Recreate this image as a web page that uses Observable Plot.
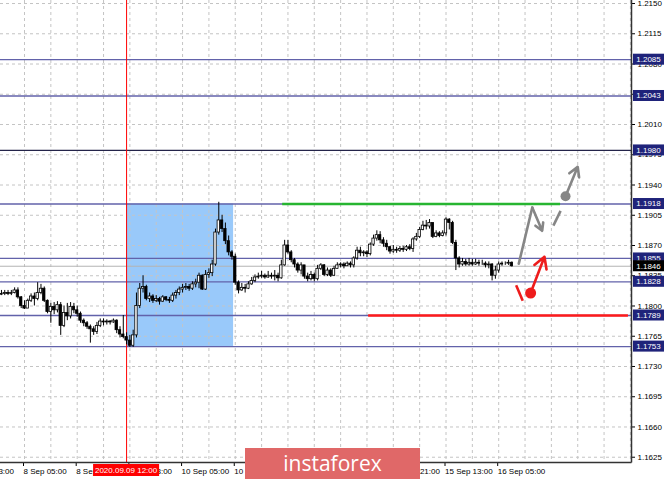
<!DOCTYPE html>
<html><head><meta charset="utf-8">
<script src="https://cdn.jsdelivr.net/npm/d3@7"></script>
<script src="https://cdn.jsdelivr.net/npm/@observablehq/plot@0.6"></script>
<style>
html,body{margin:0;padding:0;background:#fff;}
#wrap{position:relative;width:665px;height:479px;overflow:hidden;background:#fff;}
#logo{position:absolute;left:245px;top:448px;width:175px;height:31px;background:#e06868;color:#fff;font:21px 'Open Sans',sans-serif;text-align:center;line-height:30px;}
</style></head><body>
<div id="wrap"><div id="logo">instaforex</div></div>
<script>
// ---- data (EURUSD H1, prices) ----
const firstOpen = 1.1813;
const closes = [1.1814,1.1815,1.1814,1.1815,1.1818,1.1810,1.1800,1.1797,1.1806,1.1811,
1.1808,1.1815,1.1820,1.1806,1.1793,1.1799,1.1795,1.1801,1.1777,1.1792,
1.1788,1.1799,1.1795,1.1791,1.1783,1.1780,1.1776,1.1773,1.1770,1.1777,
1.1782,1.1781,1.1782,1.1781,1.1783,1.1772,1.1767,1.1764,1.1760,1.1754,
1.1766,1.1800,1.1820,1.1822,1.1808,1.1811,1.1806,1.1808,1.1805,1.1810,
1.1807,1.1806,1.1812,1.1815,1.1819,1.1821,1.1822,1.1820,1.1825,1.1827,
1.1835,1.1819,1.1836,1.1838,1.1848,1.1885,1.1899,1.1889,1.1875,1.1862,
1.1857,1.1827,1.1818,1.1821,1.1820,1.1825,1.1829,1.1833,1.1834,1.1835,
1.1833,1.1835,1.1834,1.1835,1.1832,1.1847,1.1870,1.1862,1.1853,1.1848,
1.1841,1.1847,1.1834,1.1831,1.1836,1.1831,1.1843,1.1847,1.1836,1.1841,
1.1835,1.1843,1.1847,1.1848,1.1846,1.1849,1.1847,1.1855,1.1864,1.1861,
1.1862,1.1860,1.1871,1.1878,1.1882,1.1876,1.1872,1.1868,1.1863,1.1865,
1.1864,1.1866,1.1865,1.1868,1.1866,1.1877,1.1880,1.1888,1.1893,1.1892,
1.1896,1.1880,1.1884,1.1881,1.1884,1.1900,1.1896,1.1873,1.1855,1.1848,
1.1851,1.1848,1.1850,1.1848,1.1850,1.1849,1.1849,1.1847,1.1848,1.1835,
1.1841,1.1848,1.1849,1.1849,1.1850,1.1846];
const highs = [1.1818,1.1818,1.1818,1.1818,1.1821,1.1821,1.1811,1.1806,1.1808,1.1814,
1.1815,1.1827,1.1825,1.1822,1.1807,1.1803,1.1804,1.1805,1.1804,1.1800,
1.1803,1.1804,1.1803,1.1800,1.1793,1.1785,1.1782,1.1778,1.1776,1.1781,
1.1785,1.1785,1.1784,1.1783,1.1785,1.1784,1.1776,1.1789,1.1769,1.1766,
1.1772,1.1815,1.1826,1.1835,1.1824,1.1815,1.1813,1.1812,1.1810,1.1812,
1.1811,1.1810,1.1815,1.1818,1.1822,1.1825,1.1826,1.1825,1.1828,1.1831,
1.1838,1.1836,1.1841,1.1843,1.1853,1.1889,1.1920,1.1905,1.1896,1.1881,
1.1864,1.1860,1.1829,1.1826,1.1825,1.1828,1.1833,1.1836,1.1838,1.1840,
1.1837,1.1840,1.1838,1.1841,1.1838,1.1853,1.1876,1.1876,1.1864,1.1855,
1.1850,1.1850,1.1846,1.1838,1.1840,1.1838,1.1847,1.1849,1.1848,1.1844,
1.1843,1.1846,1.1850,1.1850,1.1850,1.1851,1.1851,1.1857,1.1868,1.1868,
1.1864,1.1864,1.1873,1.1882,1.1887,1.1886,1.1879,1.1876,1.1869,1.1870,
1.1868,1.1869,1.1869,1.1870,1.1871,1.1879,1.1884,1.1891,1.1898,1.1899,
1.1900,1.1896,1.1887,1.1886,1.1887,1.1902,1.1901,1.1898,1.1876,1.1857,
1.1855,1.1854,1.1855,1.1854,1.1854,1.1853,1.1853,1.1851,1.1851,1.1849,
1.1846,1.1851,1.1851,1.1851,1.1853,1.1851];
const lows = [1.1812,1.1812,1.1812,1.1812,1.1814,1.1808,1.1797,1.1796,1.1799,1.1804,
1.1800,1.1806,1.1813,1.1804,1.1791,1.1780,1.1790,1.1792,1.1766,1.1775,
1.1783,1.1785,1.1791,1.1787,1.1780,1.1776,1.1773,1.1757,1.1766,1.1767,
1.1775,1.1777,1.1778,1.1778,1.1780,1.1768,1.1763,1.1762,1.1755,1.1752,
1.1752,1.1763,1.1797,1.1815,1.1806,1.1804,1.1803,1.1804,1.1801,1.1804,
1.1805,1.1803,1.1804,1.1808,1.1812,1.1815,1.1818,1.1817,1.1818,1.1821,
1.1820,1.1818,1.1818,1.1832,1.1834,1.1846,1.1882,1.1885,1.1871,1.1858,
1.1853,1.1824,1.1814,1.1817,1.1815,1.1819,1.1824,1.1827,1.1831,1.1832,
1.1831,1.1832,1.1831,1.1829,1.1828,1.1831,1.1846,1.1860,1.1850,1.1844,
1.1838,1.1836,1.1831,1.1828,1.1829,1.1828,1.1829,1.1841,1.1834,1.1834,
1.1833,1.1834,1.1843,1.1844,1.1843,1.1846,1.1844,1.1844,1.1853,1.1857,
1.1857,1.1856,1.1858,1.1869,1.1875,1.1872,1.1868,1.1864,1.1860,1.1861,
1.1861,1.1862,1.1862,1.1863,1.1864,1.1862,1.1875,1.1878,1.1887,1.1888,
1.1889,1.1878,1.1879,1.1879,1.1880,1.1881,1.1888,1.1871,1.1841,1.1844,
1.1846,1.1846,1.1846,1.1846,1.1847,1.1846,1.1847,1.1844,1.1843,1.1829,
1.1831,1.1838,1.1846,1.1847,1.1847,1.1845];

const levels = [1.2085, 1.2043, 1.1980, 1.1918, 1.1855, 1.1828, 1.1789, 1.1753];
const lastPrice = 1.1846;
const yTicks = [1.2150,1.2115,1.2080,1.2045,1.2010,1.1975,1.1940,1.1905,1.1870,1.1835,1.1800,1.1765,1.1730,1.1695,1.1660,1.1625];
const xTickBars = [-9, 7, 23, 39, 55, 71, 87, 103, 119, 135, 151];
const xTickLabels = ["7 Sep 13:00","8 Sep 05:00","8 Sep 21:00","9 Sep 13:00","10 Sep 05:00","10 Sep 21:00","11 Sep 13:00","14 Sep 05:00","14 Sep 21:00","15 Sep 13:00","16 Sep 05:00"];
const gridBars = [-1,7,15,23,31,39,47,55,63,71,79,87,95,103,111,119,127,135,143,151,159,167,175,183,191];
const xDomain = [-0.29, 191.33];
const yDomain = [1.16189, 1.21535];
const markerBar = 38, markerLabel = "2020.09.09 12:00";
const zone = {bar1: 38, bar2: 70.5, low: 1.1753, high: 1.1918};
const greenSeg = {bar1: 85.4, bar2: 169.8, price: 1.1918};
const redSeg = {bar1: 111.5, bar2: 190.4, price: 1.1789};
const grayPath = [{bar:157.1, price:1.1849},{bar:161.2, price:1.1914}];
const grayArrows = [{b1:161.2,p1:1.1914,b2:164.2,p2:1.1887},{b1:171.3,p1:1.1927,b2:175.0,p2:1.1961}];
const grayDash = [{b1:167.6,p1:1.1893,b2:169.8,p2:1.1910}];
const grayDot = [{bar:171.3, price:1.1927}];
const redDash = [{b1:156.3,p1:1.1824,b2:158.3,p2:1.1806}];
const redDot = [{bar:160.7, price:1.1815}];
const redArrow = [{b1:160.7,p1:1.1815,b2:164.9,p2:1.1857}];

const bars = closes.map((c, i) => ({i, open: i === 0 ? firstOpen : closes[i-1], close: c, high: highs[i], low: lows[i]}));
const levelColor = v => v === 1.1980 ? "#24244a" : "#6262aa";

const plot = Plot.plot({
  width: 665, height: 479,
  marginLeft: 0, marginRight: 34, marginTop: 0, marginBottom: 17,
  style: {fontFamily: "'Liberation Sans', Arial, sans-serif", fontSize: "8px", background: "#fff", overflow: "hidden"},
  x: {type: "linear", domain: xDomain, axis: null},
  y: {domain: yDomain, axis: null},
  marks: [
    Plot.rect([zone], {x1: "bar1", x2: "bar2", y1: "low", y2: "high", fill: "#99c9fa"}),
    Plot.ruleY(yTicks, {stroke: "#c4c4c4", strokeDasharray: "3,3"}),
    Plot.ruleX(gridBars, {stroke: "#c4c4c4", strokeDasharray: "3,3"}),
    Plot.ruleY([lastPrice], {stroke: "#b4b4b4"}),
    Plot.ruleY(levels, {stroke: d => levelColor(d), strokeWidth: 1.3}),
    Plot.ruleX([markerBar], {stroke: "#ff0000", strokeWidth: 1}),
    Plot.ruleX(bars, {x: "i", y1: "low", y2: "high", stroke: "#000", strokeWidth: 1}),
    Plot.rect(bars, {x1: d => d.i - 0.36, x2: d => d.i + 0.36, y1: "open", y2: "close",
      fill: d => d.close >= d.open ? "#fff" : "#000", stroke: "#000", strokeWidth: 0.8}),
    Plot.ruleY([greenSeg], {x1: "bar1", x2: "bar2", y: "price", stroke: "#27b531", strokeWidth: 2.5}),
    Plot.ruleY([redSeg], {x1: "bar1", x2: "bar2", y: "price", stroke: "#ff1a1a", strokeWidth: 2.5}),
    Plot.line(grayPath, {x: "bar", y: "price", stroke: "#868686", strokeWidth: 2.6}),
    Plot.arrow(grayArrows, {x1: "b1", y1: "p1", x2: "b2", y2: "p2", stroke: "#868686", strokeWidth: 2.6, headLength: 11}),
    Plot.link(grayDash, {x1: "b1", y1: "p1", x2: "b2", y2: "p2", stroke: "#868686", strokeWidth: 2.6}),
    Plot.dot(grayDot, {x: "bar", y: "price", r: 5, fill: "#868686"}),
    Plot.link(redDash, {x1: "b1", y1: "p1", x2: "b2", y2: "p2", stroke: "#ee1c1c", strokeWidth: 2.6}),
    Plot.arrow(redArrow, {x1: "b1", y1: "p1", x2: "b2", y2: "p2", stroke: "#ee1c1c", strokeWidth: 2.6, headLength: 11}),
    Plot.dot(redDot, {x: "bar", y: "price", r: 5.5, fill: "#ee1c1c"}),
    Plot.axisY({anchor: "right", ticks: yTicks, tickFormat: d => d.toFixed(4), tickSize: 3, tickPadding: 3, fill: "#000"}),
    Plot.axisX({ticks: xTickBars, tickFormat: d => xTickLabels[xTickBars.indexOf(d)], tickSize: 4, tickPadding: 2, textAnchor: "start", dx: -1, fill: "#000"})
  ]
});

document.getElementById("wrap").insertBefore(plot, document.getElementById("logo"));

const sx = plot.scale("x"), sy = plot.scale("y");
const svg = d3.select(plot);
const xR = sx.range[1], yB = sy.range[0];
const g = svg.append("g");
// axis frame lines
g.append("line").attr("x1", xR + 0.5).attr("x2", xR + 0.5).attr("y1", 0).attr("y2", yB + 0.5).attr("stroke", "#333").attr("stroke-width", 1.5);
g.append("line").attr("x1", 0).attr("x2", xR + 0.5).attr("y1", yB + 0.5).attr("y2", yB + 0.5).attr("stroke", "#333").attr("stroke-width", 1.5);
// level boxes
const boxes = levels.map(v => ({v, fill: "#1f237a"})).concat([{v: lastPrice, fill: "#000"}]);
for (const b of boxes) {
  const yy = sy.apply(b.v);
  g.append("rect").attr("x", xR + 2).attr("y", yy - 5.5).attr("width", 31).attr("height", 11).attr("fill", b.fill);
  g.append("text").attr("x", xR + 17.5).attr("y", yy).attr("dy", "0.35em").attr("text-anchor", "middle")
    .attr("fill", "#fff").attr("font-size", 8).text(b.v.toFixed(4));
}
// marker label on time axis
const mx = sx.apply(markerBar);
g.append("rect").attr("x", mx - 33).attr("y", yB + 2).attr("width", 66).attr("height", 12).attr("fill", "#ff0000");
g.append("text").attr("x", mx).attr("y", yB + 8).attr("dy", "0.35em").attr("text-anchor", "middle")
  .attr("fill", "#fff").attr("font-size", 8).text(markerLabel);
</script>
</body></html>
